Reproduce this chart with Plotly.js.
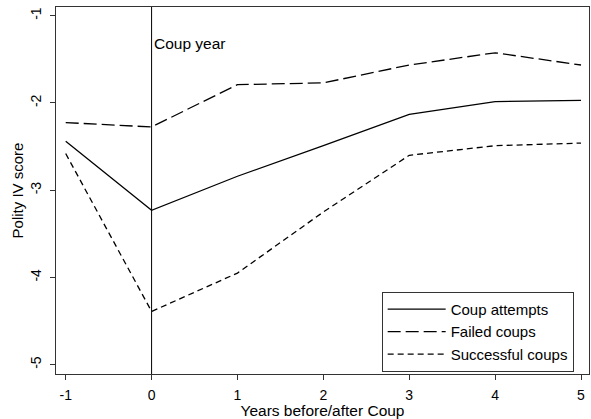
<!DOCTYPE html>
<html>
<head>
<meta charset="utf-8">
<script src="https://cdn.plot.ly/plotly-3.0.1.min.js"></script>
<style>html,body{margin:0;padding:0;background:#fff;}#chart{width:591px;height:419px;}</style>
</head>
<body>
<div id="chart"></div>
<script>
var years = [-1, 0, 1, 2, 3, 4, 5];
var coupAttempts = [-2.44, -3.23, -2.84, -2.49, -2.13, -1.985, -1.97];
var failedCoups = [-2.225, -2.275, -1.79, -1.77, -1.565, -1.425, -1.565];
var successfulCoups = [-2.58, -4.39, -3.95, -3.25, -2.60, -2.49, -2.46];
var seriesNames = ["Coup attempts", "Failed coups", "Successful coups"];
var xTicks = [-1, 0, 1, 2, 3, 4, 5];
var xTickText = ["-1", "0", "1", "2", "3", "4", "5"];
var yTicks = [-5, -4, -3, -2, -1];
var yTickText = ["-5", "-4", "-3", "-2", "-1"];
var coupYear = 0;

var fam = "Liberation Sans, Arial, sans-serif";
var traces = [
  {x: years, y: coupAttempts, name: seriesNames[0], mode: "lines", line: {color: "#000", width: 1.3, dash: "solid"}},
  {x: years, y: failedCoups, name: seriesNames[1], mode: "lines", line: {color: "#000", width: 1.3, dash: "13px,5px"}},
  {x: years, y: successfulCoups, name: seriesNames[2], mode: "lines", line: {color: "#000", width: 1.3, dash: "6px,4px"}}
];
var layout = {
  width: 591, height: 419,
  margin: {l: 56, r: 2, t: 7, b: 45},
  paper_bgcolor: "#fff", plot_bgcolor: "#fff",
  font: {family: fam, size: 14, color: "#000"},
  showlegend: true,
  legend: {x: 0.611, y: 0.006, xanchor: "left", yanchor: "bottom", bordercolor: "#333", borderwidth: 1,
           bgcolor: "#fff", font: {family: fam, size: 15, color: "#000"}, tracegroupgap: 0, itemwidth: 58},
  xaxis: {range: [-1.113, 5.093], tickvals: xTicks, ticktext: xTickText, ticks: "outside", ticklen: 5, tickcolor: "#333",
          ticklabelstandoff: 3,
          showline: true, linecolor: "#333", linewidth: 1.3, mirror: true, showgrid: false, zeroline: false,
          tickfont: {family: fam, size: 14, color: "#000"},
          title: {text: "Years before/after Coup", font: {family: fam, size: 15.5, color: "#000"}, standoff: 0}},
  yaxis: {range: [-5.107, -0.90], tickvals: yTicks, ticktext: yTickText, ticks: "outside", ticklen: 5, tickcolor: "#333", tickangle: -90,
          ticklabelstandoff: 3,
          showline: true, linecolor: "#333", linewidth: 1.3, mirror: true, showgrid: false, zeroline: false,
          tickfont: {family: fam, size: 14, color: "#000"},
          title: {text: "Polity IV score", font: {family: fam, size: 15, color: "#000"}, standoff: 0}},
  shapes: [{type: "line", xref: "x", yref: "paper", x0: coupYear, x1: coupYear, y0: 0, y1: 1, line: {color: "#000", width: 1}}],
  annotations: [{x: coupYear, y: -1.32, xref: "x", yref: "y", text: "Coup year", showarrow: false,
                 xanchor: "left", yanchor: "middle", xshift: 0, font: {family: fam, size: 15.5, color: "#000"}}]
};
Plotly.newPlot("chart", traces, layout, {displayModeBar: false, staticPlot: true});
</script>
</body>
</html>
